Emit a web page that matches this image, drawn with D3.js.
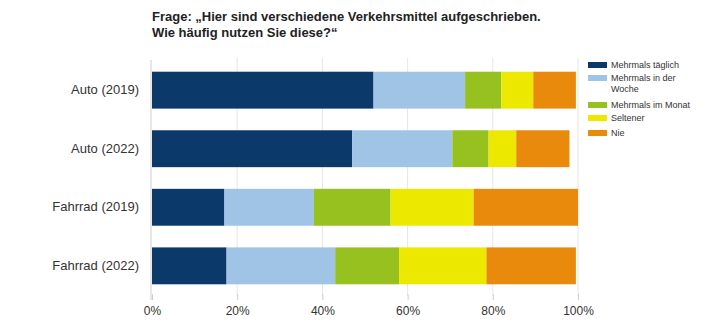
<!DOCTYPE html>
<html>
<head>
<meta charset="utf-8">
<script src="https://cdn.jsdelivr.net/npm/d3@7"></script>
<style>
  body { margin: 0; background: #fff; }
  svg { display: block; font-family: "Liberation Sans", Arial, sans-serif; }
</style>
</head>
<body>
<svg id="drawing_region"></svg>
<script>
var Categories = ['Auto (2019)', 'Auto (2022)', 'Fahrrad (2019)', 'Fahrrad (2022)'];
var SeriesNames = ['Mehrmals täglich', 'Mehrmals in der Woche', 'Mehrmals im Monat', 'Seltener', 'Nie'];
var TaeglichValues = [52, 47, 17, 17.5];
var WocheValues = [21.5, 23.5, 21, 25.5];
var MonatValues = [8.5, 8.5, 18, 15];
var SeltenerValues = [7.5, 6.5, 19.5, 20.5];
var NieValues = [10, 12.5, 24.5, 21];
var TickValues = [0, 20, 40, 60, 80, 100];
var TitleLines = ['Frage: „Hier sind verschiedene Verkehrsmittel aufgeschrieben.', 'Wie häufig nutzen Sie diese?“'];

var Colors = ['#0b3a6a', '#9fc4e5', '#96c11e', '#ede800', '#e98a0c'];

var Config = {
    parent: '#drawing_region',
    width: 715,
    height: 322,
    margin: { top: 60, right: 137, bottom: 28, left: 152 }
};

var width = Config.width, height = Config.height, margin = Config.margin;
var inner_width = 578 - margin.left;

var svg = d3.select(Config.parent)
    .attr('width', width)
    .attr('height', height);

// build stacked rows
var seriesArrays = [TaeglichValues, WocheValues, MonatValues, SeltenerValues, NieValues];
var rows = Categories.map(function(c, i) {
    var r = { cat: c };
    SeriesNames.forEach(function(s, j) { r[s] = seriesArrays[j][i]; });
    return r;
});
var stacked = d3.stack().keys(SeriesNames)(rows);

var xscale = d3.scaleLinear().domain([0, 100]).range([0, inner_width]);
var yscale = d3.scaleBand().domain(Categories).range([0, 236]).paddingInner(0.37).paddingOuter(0.2);

var chart = svg.append('g')
    .attr('transform', `translate(${margin.left}, ${margin.top})`);

// title
svg.append('g').selectAll('text')
    .data(TitleLines)
    .join('text')
    .attr('x', 152)
    .attr('y', (d, i) => 21 + i * 16)
    .attr('font-size', 13)
    .attr('font-weight', 'bold')
    .attr('fill', '#222')
    .text(d => d);

// grid
chart.append('g').selectAll('line')
    .data(TickValues.slice(1))
    .join('line')
    .attr('x1', d => xscale(d))
    .attr('x2', d => xscale(d))
    .attr('y1', -2)
    .attr('y2', 236)
    .attr('stroke', '#e6e6e6')
    .attr('stroke-width', 1);

// bars
chart.append('g').selectAll('g')
    .data(stacked)
    .join('g')
    .attr('fill', (d, i) => Colors[i])
    .selectAll('rect')
    .data(d => d)
    .join('rect')
    .attr('x', d => xscale(d[0]))
    .attr('y', d => yscale(d.data.cat))
    .attr('width', d => xscale(d[1]) - xscale(d[0]))
    .attr('height', yscale.bandwidth());

// y axis
var yaxis = d3.axisLeft(yscale).tickSize(0).tickPadding(13);
var yaxis_group = chart.append('g').call(yaxis);
yaxis_group.select('.domain').attr('stroke', '#cfcfcf').attr('d', 'M-1,0V240');
yaxis_group.selectAll('text').attr('font-size', 13).attr('fill', '#333').attr('font-family', null);

// x axis
var xaxis = d3.axisBottom(xscale)
    .tickValues(TickValues)
    .tickFormat(d => d + '%')
    .tickSize(6)
    .tickPadding(6);
var xaxis_group = chart.append('g')
    .attr('transform', `translate(0, 234)`)
    .call(xaxis);
xaxis_group.select('.domain').remove();
xaxis_group.selectAll('line').attr('stroke', '#d0d0d0');
xaxis_group.selectAll('text').attr('font-size', 12).attr('fill', '#333').attr('font-family', null);

// legend
var legendLabels = [['Mehrmals täglich'], ['Mehrmals in der', 'Woche'], ['Mehrmals im Monat'], ['Seltener'], ['Nie']];
var legendY = [65, 78, 105, 118, 133];
var legend = svg.append('g').selectAll('g')
    .data(SeriesNames)
    .join('g')
    .attr('transform', (d, i) => `translate(588, ${legendY[i]})`);
legend.append('rect')
    .attr('x', 0)
    .attr('y', -3)
    .attr('width', 19)
    .attr('height', 6)
    .attr('fill', (d, i) => Colors[i]);
legend.append('text')
    .attr('x', 23)
    .attr('y', 3)
    .attr('font-size', 9)
    .attr('fill', '#333')
    .selectAll('tspan')
    .data((d, i) => legendLabels[i])
    .join('tspan')
    .attr('x', 23)
    .attr('dy', (d, i) => i === 0 ? 0 : 11)
    .text(d => d);
</script>
</body>
</html>
